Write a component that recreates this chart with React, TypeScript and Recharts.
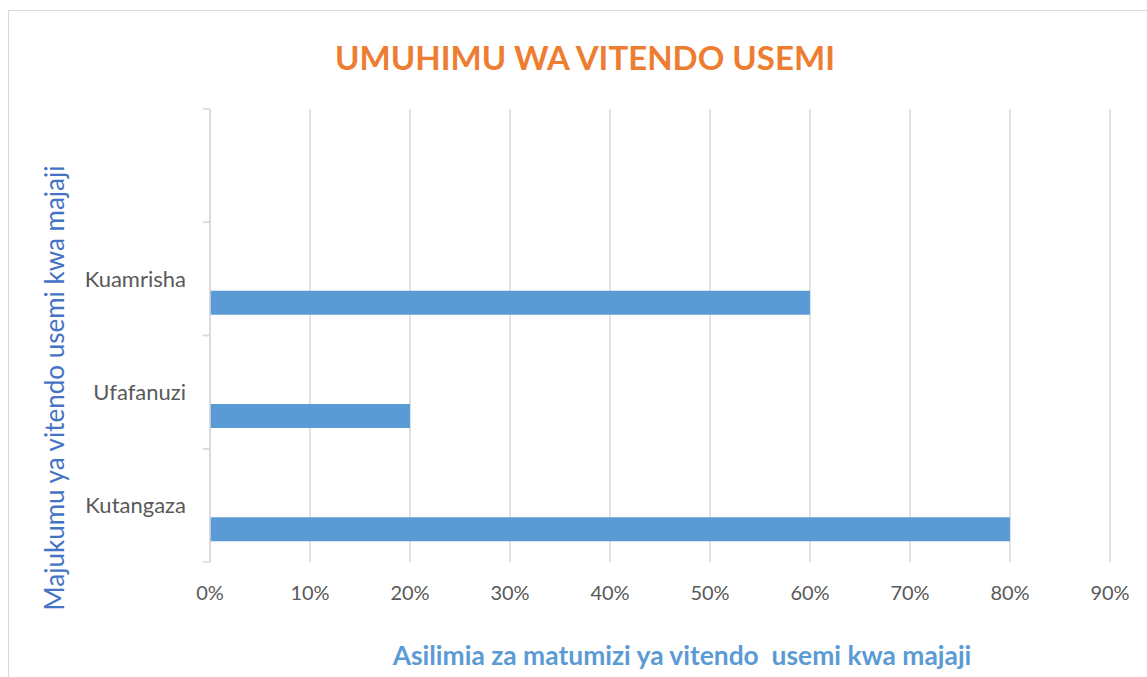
import React from "react";
import { BarChart, Bar, XAxis, YAxis, CartesianGrid } from "recharts";

const categories = ["", "Kuamrisha", "Ufafanuzi", "Kutangaza"];
const shares = [null, 0.6, 0.2, 0.8];
const xTicks = [0, 0.1, 0.2, 0.3, 0.4, 0.5, 0.6, 0.7, 0.8, 0.9];

const title = "UMUHIMU WA VITENDO USEMI";
const xTitle = "Asilimia za matumizi ya vitendo  usemi kwa majaji";
const yTitle = "Majukumu ya vitendo usemi kwa majaji";

const data = categories.map((name, i) => ({ name, share: shares[i], blankA: null, blankB: null }));

const FONT = "Lato, 'Open Sans', sans-serif";
const GRID = "#d9d9d9";
const TICK_SIZE = 7;
const TICK_MARGIN = 17;

// category ticks sit between bands, like Excel, so draw them at the band edges
function CategoryTick(props: any) {
  const { x, y, payload } = props;
  const axisX = x + TICK_SIZE + TICK_MARGIN;
  const half = payload.offset || 0;
  return (
    <g>
      <line x1={axisX - TICK_SIZE} x2={axisX} y1={y - half} y2={y - half} stroke={GRID} strokeWidth={1.5} />
      <line x1={axisX - TICK_SIZE} x2={axisX} y1={y + half} y2={y + half} stroke={GRID} strokeWidth={1.5} />
      <text x={x} y={y} dy="0.35em" textAnchor="end" fill="#595959" fontSize={22} fontFamily={FONT}>
        {payload.value}
      </text>
    </g>
  );
}

export default function App() {
  return (
    <div style={{ position: "absolute", left: 0, top: 0, width: 1147, height: 677, background: "#fff" }}>
      <div
        style={{
          position: "absolute",
          left: 8,
          top: 10,
          width: 1139,
          height: 667,
          borderLeft: `1.5px solid ${GRID}`,
          borderTop: `1.5px solid ${GRID}`,
          boxSizing: "border-box",
        }}
      />
      <BarChart
        width={1147}
        height={677}
        data={data}
        layout="vertical"
        margin={{ top: 109, right: 37, left: 0, bottom: 85 }}
        barCategoryGap="18.2%"
        barGap={0}
      >
        <CartesianGrid horizontal={false} stroke={GRID} strokeWidth={1.5} />
        <XAxis
          type="number"
          domain={[0, 0.9]}
          ticks={xTicks}
          tickFormatter={(v) => `${Math.round(v * 100)}%`}
          axisLine={false}
          tickLine={false}
          tickMargin={18}
          height={30}
          tick={{ fill: "#595959", fontSize: 20, fontFamily: FONT }}
        />
        <YAxis
          type="category"
          dataKey="name"
          width={210}
          interval={0}
          axisLine={{ stroke: GRID, strokeWidth: 1.5 }}
          tickLine={false}
          tickSize={TICK_SIZE}
          tickMargin={TICK_MARGIN}
          tick={<CategoryTick />}
        />
        <Bar dataKey="blankA" fill="#5B9BD5" isAnimationActive={false} />
        <Bar dataKey="blankB" fill="#5B9BD5" isAnimationActive={false} />
        <Bar dataKey="share" fill="#5B9BD5" isAnimationActive={false} />
      </BarChart>
      <div
        style={{
          position: "absolute",
          left: 585,
          top: 57,
          transform: "translate(-50%, -50%)",
          whiteSpace: "nowrap",
          fontFamily: FONT,
          fontWeight: 700,
          fontSize: 33,
          color: "#ED7D31",
        }}
      >
        {title}
      </div>
      <div
        style={{
          position: "absolute",
          left: 682,
          top: 655,
          transform: "translate(-50%, -50%)",
          whiteSpace: "pre",
          fontFamily: FONT,
          fontWeight: 700,
          fontSize: 26.4,
          color: "#5B9BD5",
        }}
      >
        {xTitle}
      </div>
      <div
        style={{
          position: "absolute",
          left: 54,
          top: 388,
          transform: "translate(-50%, -50%) rotate(-90deg)",
          whiteSpace: "nowrap",
          fontFamily: FONT,
          fontSize: 26,
          color: "#4472C4",
        }}
      >
        {yTitle}
      </div>
    </div>
  );
}
